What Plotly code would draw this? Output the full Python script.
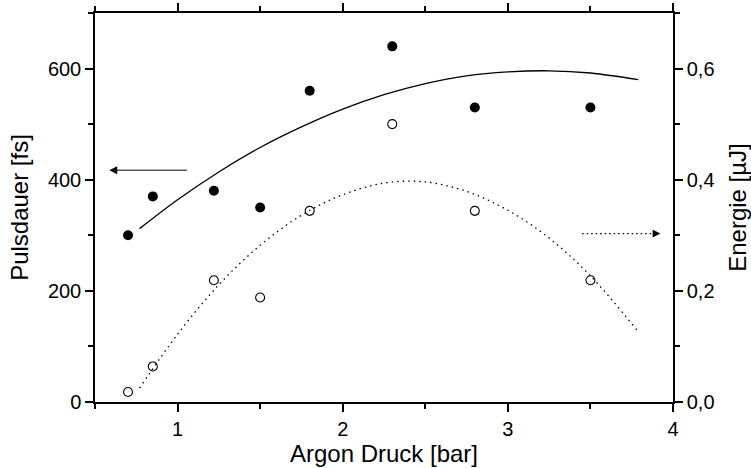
import plotly.graph_objects as go

# Measured points
druck = [0.7, 0.85, 1.22, 1.5, 1.8, 2.3, 2.8, 3.5]
pulsdauer = [300, 370, 380, 350, 560, 640, 530, 530]
energie = [0.018, 0.064, 0.219, 0.188, 0.344, 0.5, 0.344, 0.219]

# Fit curves
fit_p_x = [0.77, 1.0, 1.25, 1.5, 1.75, 2.0, 2.25, 2.5, 2.75, 3.0, 3.25, 3.5, 3.79]
fit_p_y = [312, 364, 414, 458, 495, 527, 553, 573, 587, 594, 596, 592, 580]
fit_e_x = [0.77, 1.0, 1.25, 1.5, 1.75, 2.0, 2.25, 2.5, 2.75, 3.0, 3.25, 3.5, 3.78]
fit_e_y = [0.025, 0.122, 0.211, 0.282, 0.336, 0.373, 0.394, 0.396, 0.379, 0.345, 0.295, 0.227, 0.130]

# Arrows indicating which axis belongs to which series
arrow_left_x = [1.056, 0.60]
arrow_left_y = [417, 417]
arrow_right_x = [3.45, 3.90]
arrow_right_y = [0.303, 0.303]

FONT = "Liberation Sans, Arial, sans-serif"

fig = go.Figure()

fig.add_trace(go.Scatter(x=fit_p_x, y=fit_p_y, mode="lines", line=dict(color="black", width=1.3, shape="spline"),
                         showlegend=False, hoverinfo="skip"))
fig.add_trace(go.Scatter(x=fit_e_x, y=fit_e_y, mode="lines", yaxis="y2",
                         line=dict(color="black", width=1.3, shape="spline", dash="1.5px,4px"),
                         showlegend=False, hoverinfo="skip"))
fig.add_trace(go.Scatter(x=druck, y=pulsdauer, mode="markers",
                         marker=dict(symbol="circle", size=10, color="black"), showlegend=False))
fig.add_trace(go.Scatter(x=druck, y=energie, mode="markers", yaxis="y2",
                         marker=dict(symbol="circle-open", size=9, color="black", line=dict(width=1.1)),
                         showlegend=False))

# arrow shafts
fig.add_trace(go.Scatter(x=arrow_left_x, y=arrow_left_y, mode="lines",
                         line=dict(color="#555555", width=1.3), showlegend=False, hoverinfo="skip"))
fig.add_trace(go.Scatter(x=arrow_right_x, y=arrow_right_y, mode="lines", yaxis="y2",
                         line=dict(color="black", width=1.3, dash="1.5px,3px"), showlegend=False, hoverinfo="skip"))

# arrow heads
fig.add_annotation(x=arrow_left_x[1] - 0.013, y=arrow_left_y[1], ax=arrow_left_x[1] + 0.03, ay=arrow_left_y[1],
                   xref="x", yref="y", axref="x", ayref="y", text="", showarrow=True,
                   arrowhead=2, arrowsize=1.3, arrowwidth=1.2, arrowcolor="black")
fig.add_annotation(x=arrow_right_x[1] + 0.024, y=arrow_right_y[1], ax=arrow_right_x[1] - 0.03, ay=arrow_right_y[1],
                   xref="x", yref="y2", axref="x", ayref="y2", text="", showarrow=True,
                   arrowhead=2, arrowsize=1.3, arrowwidth=1.2, arrowcolor="black")

axis_common = dict(showgrid=False, zeroline=False, showline=True, linecolor="black", linewidth=1.5,
                   ticks="outside", ticklen=8, tickwidth=1.5, tickcolor="black", automargin=False,
                   tickfont=dict(family=FONT, size=20, color="black"))

fig.update_layout(
    width=751, height=468,
    margin=dict(l=95, r=78, t=13, b=66),
    paper_bgcolor="white", plot_bgcolor="white",
    separators=",.",
    font=dict(family=FONT, color="black"),
    xaxis=dict(range=[0.5, 4], tickmode="array", tickvals=[1, 2, 3, 4], mirror="ticks",
               minor=dict(ticks="outside", ticklen=5, tickwidth=1.5, tickcolor="black", dtick=0.5, tick0=0.5),
               title=dict(text="Argon Druck [bar]", font=dict(family=FONT, size=24), standoff=6),
               **axis_common),
    yaxis=dict(range=[0, 700], tickmode="array", tickvals=[0, 200, 400, 600],
               minor=dict(ticks="outside", ticklen=5, tickwidth=1.5, tickcolor="black", dtick=100, tick0=0),
               title=dict(text="Pulsdauer [fs]", font=dict(family=FONT, size=24), standoff=12),
               **axis_common),
    yaxis2=dict(range=[0, 0.7], overlaying="y", side="right", tickmode="array",
                tickvals=[0, 0.2, 0.4, 0.6], tickformat=".1f",
                minor=dict(ticks="outside", ticklen=5, tickwidth=1.5, tickcolor="black", dtick=0.1, tick0=0),
                title=dict(text="Energie [µJ]", font=dict(family=FONT, size=24), standoff=18),
                **axis_common),
)

fig.write_html("out.html")
